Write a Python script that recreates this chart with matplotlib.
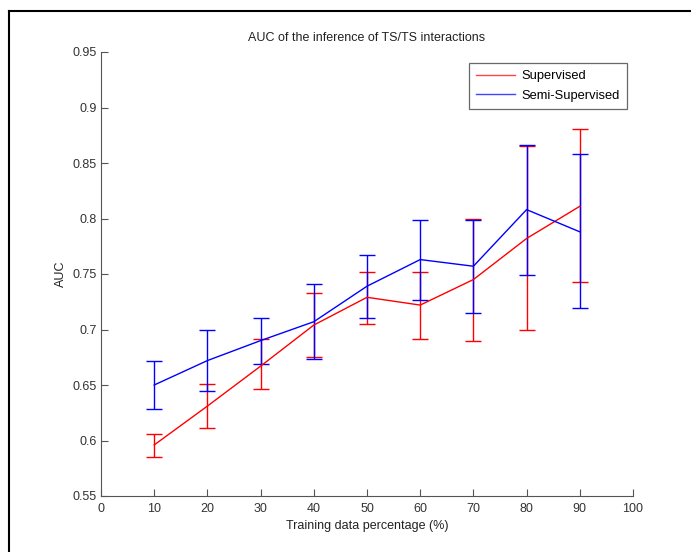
import numpy as np
import matplotlib
matplotlib.use('Agg')
import matplotlib.pyplot as plt
from matplotlib.lines import Line2D
from matplotlib.ticker import FormatStrFormatter

plt.rcParams['font.family'] = ['Liberation Sans', 'DejaVu Sans']

pct = [10, 20, 30, 40, 50, 60, 70, 80, 90]

# supervised: mean, lower and upper ends of the error bars
sup_mean = [0.596, 0.631, 0.667, 0.704, 0.729, 0.722, 0.745, 0.782, 0.811]
sup_low = [0.585, 0.611, 0.646, 0.675, 0.705, 0.691, 0.690, 0.700, 0.743]
sup_high = [0.606, 0.651, 0.691, 0.733, 0.752, 0.752, 0.800, 0.865, 0.881]

# semi-supervised
semi_mean = [0.650, 0.672, 0.690, 0.707, 0.739, 0.763, 0.757, 0.808, 0.788]
semi_low = [0.628, 0.645, 0.669, 0.673, 0.710, 0.727, 0.715, 0.749, 0.719]
semi_high = [0.672, 0.700, 0.710, 0.741, 0.767, 0.799, 0.799, 0.866, 0.858]

fig = plt.figure(figsize=(6.91, 5.52), dpi=100)
ax = fig.add_axes([101/691, 56/552, 532/691, 444/552])

def draw(mean, low, high, col, name):
    mean = np.array(mean)
    err = [mean - np.array(low), np.array(high) - mean]
    ax.errorbar(pct, mean, yerr=err, color=col, lw=1, elinewidth=1,
                capsize=5.5, capthick=1, label=name)

draw(sup_mean, sup_low, sup_high, '#ff0000', 'Supervised')
draw(semi_mean, semi_low, semi_high, '#0000ff', 'Semi-Supervised')

ax.set_xlim(0, 100)
ax.set_ylim(0.55, 0.95)
ax.set_xticks(np.arange(0, 101, 10))
ax.set_yticks(np.arange(0.55, 0.951, 0.05))
ax.yaxis.set_major_formatter(FormatStrFormatter('%g'))
ax.xaxis.set_major_formatter(FormatStrFormatter('%g'))

for s in ['top', 'right']:
    ax.spines[s].set_visible(False)
for s in ['left', 'bottom']:
    ax.spines[s].set_color('#555555')
ax.tick_params(direction='in', length=5, color='#555555', labelcolor='#333333',
               labelsize=9, pad=3)
ax.tick_params(axis='x', pad=5)

ax.set_title('AUC of the inference of TS/TS interactions', fontsize=9,
             color='#222222', pad=8)
ax.set_xlabel('Training data percentage (%)', fontsize=9, color='#222222', labelpad=4)
ax.set_ylabel('AUC', fontsize=9, color='#222222', labelpad=4)

h, l = ax.get_legend_handles_labels()
handles = [Line2D([], [], color='#ff4444', lw=1), Line2D([], [], color='#4444ff', lw=1)]
leg = ax.legend(handles, l, loc='upper right', bbox_to_anchor=(627/691, 1 - 63/552),
                bbox_transform=fig.transFigure, fontsize=9.3, frameon=True,
                fancybox=False, edgecolor='#444444', borderpad=0.55,
                handlelength=3.0, handletextpad=0.5, labelspacing=0.6,
                borderaxespad=0)
leg.get_frame().set_linewidth(0.9)

# outer black frame (top and left edges of the picture)
fig.add_artist(Line2D([9/691, 1], [1 - 11/552, 1 - 11/552], color='black', lw=1.5,
                      transform=fig.transFigure))
fig.add_artist(Line2D([9/691, 9/691], [0, 1 - 11/552], color='black', lw=1.5,
                      transform=fig.transFigure))

fig.savefig('out.png', dpi=100)
